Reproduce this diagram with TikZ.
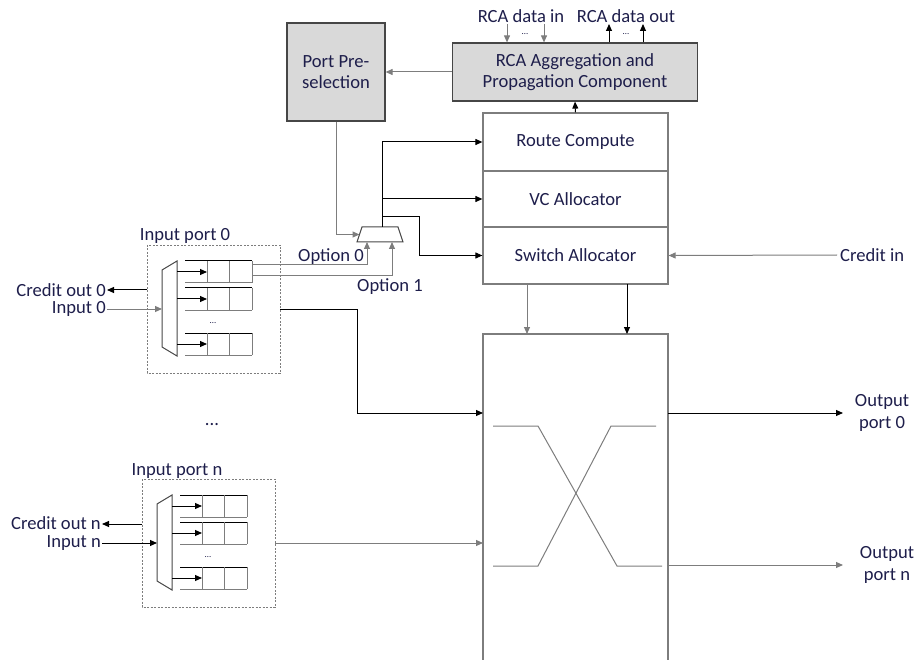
\documentclass[tikz,border=0pt]{standalone}
\usepackage{fontspec}
\setmainfont{Carlito}
\usetikzlibrary{arrows.meta}
\definecolor{txt}{RGB}{30,30,75}
\definecolor{gline}{RGB}{125,125,125}
\definecolor{dline}{RGB}{70,70,70}
\definecolor{boxfill}{RGB}{217,217,217}
\tikzset{
  ln/.style={line width=1pt,black},
  gl/.style={line width=1pt,gline},
  arr/.style={-{Triangle[length=7pt,width=6pt]}},
  box/.style={draw=gline,line width=1.2pt,inner sep=0pt,align=center},
  gbox/.style={draw=dline,line width=1.2pt,inner sep=0pt,align=center,fill=boxfill,
    font=\fontsize{18.6}{21.5}\selectfont},
  tiny/.style={font=\fontsize{9}{10}\selectfont},
  inport/.pic={
    \draw[gl,line width=0.9pt,dash pattern=on 2pt off 1.5pt] (0,0) rectangle (133,128);
    \draw[dline,line width=1pt] (15,25) -- (15,102) -- (30,111) -- (30,16) -- cycle;
    \foreach \t/\m in {16/27,43/54,88/99} {
      \draw[ln,line width=1pt] (38,\t) -- (105,\t);
      \draw[gl,line width=1pt] (38,\t+22) -- (105,\t+22);
      \draw[gl,line width=1pt] (60,\t) -- (60,\t+22) (82,\t) -- (82,\t+22) (105,\t) -- (105,\t+22);
      \draw[ln,arr] (30,\m) -- (60,\m);
    }
    \node[tiny] at (66,78) {\dots};
    \coordinate (-west) at (0,45);
    \coordinate (-in) at (15,64);
    \coordinate (-east) at (133,64);
    \coordinate (-q1) at (105,20);
    \coordinate (-q1b) at (105,31);
  }
}
\begin{document}
\begin{tikzpicture}[x=1pt,y=-1pt,
  every node/.style={text=txt,font=\fontsize{18.6}{22}\selectfont}]
\useasboundingbox (0,0) rectangle (918,660);

% top boxes
\node[gbox,minimum width=98pt,minimum height=98pt] (pps) at (336,72) {Port Pre-\\selection};
\node[gbox,minimum width=245pt,minimum height=58pt] (rca) at (575,72) {RCA Aggregation and\\Propagation Component};
\node[box,minimum width=185pt,minimum height=58pt] (rc) at (575.5,142) {Route Compute};
\node[box,minimum width=185pt,minimum height=56pt] (vc) at (575.5,199) {VC Allocator};
\node[box,minimum width=185pt,minimum height=57pt] (sa) at (575.5,255.5) {Switch Allocator};

% RCA data
\node (dinl) at (521,16) {RCA data in};
\node (doutl) at (626,16) {RCA data out};
\coordinate (di1) at (507,24); \coordinate (di2) at (544,24);
\coordinate (do1) at (609,24); \coordinate (do2) at (643,24);
\draw[gl,arr] (di1) -- (di1 |- rca.north);
\draw[gl,arr] (di2) -- (di2 |- rca.north);
\draw[ln,arr] (do1 |- rca.north) -- (do1);
\draw[ln,arr] (do2 |- rca.north) -- (do2);
\node[tiny] (dd1) at (525,34) {\dots};
\node[tiny] (dd2) at (626,34) {\dots};

\draw[gl,arr] (rca.west) -- (pps.east);
\draw[ln,arr] (rc.north) -- (rca.south);

% mux
\coordinate (muxin) at (359.5,234.5);
\coordinate (muxout) at (382,227);
\coordinate (muxo0) at (367,242);
\coordinate (muxo1) at (392,242);
\draw[dline,line width=1pt] (362,227) -- (398,227) -- (403,242) -- (357,242) -- cycle;
\draw[gl,arr] (pps.south) |- (muxin);
\draw[ln,arr] (muxout) |- (rc.west);
\coordinate (b1) at (382,199);
\coordinate (b2) at (382,217);
\coordinate (k2) at (419,217);
\draw[ln,arr] (b1) -- (vc.west);
\draw[ln,arr] (b2) -- (k2) |- (sa.west);

% input ports
\pic (p0) at (147,245) {inport};
\pic (pn) at (142,479) {inport};
\node (lp0) at (185,236) {Input port 0};
\node (lpn) at (177,471) {Input port n};
\node[anchor=east,inner sep=1pt] (co0) at (107,290) {Credit out 0};
\node[anchor=east,inner sep=1pt] (in0) at (107,309) {Input 0};
\node[anchor=east,inner sep=1pt] (con) at (102,523) {Credit out n};
\node[anchor=east,inner sep=1pt] (inn) at (102,543) {Input n};
\draw[ln,arr] (p0-west) -- (p0-west -| co0.east);
\draw[gl,arr] (in0.east |- p0-in) -- (p0-in);
\draw[ln,arr] (pn-west) -- (pn-west -| con.east);
\draw[ln,arr] (inn.east |- pn-in) -- (pn-in);
\node (vdots) at (212,425) {...};

% options
\draw[gl,arr] (p0-q1) -| (muxo0);
\draw[gl,arr] (p0-q1b) -| (muxo1);
\node (op0) at (331,257) {Option 0};
\node (op1) at (390,287) {Option 1};

% crossbar
\coordinate (xtl) at (483,334); \coordinate (xtr) at (668,334);
\coordinate (xbl) at (483,660); \coordinate (xbr) at (668,660);
\draw[gl,line width=1.2pt] (xbl) -- (xtl) -- (xtr) -- (xbr);
\coordinate (sa1) at (527,284); \coordinate (xt1) at (527,334);
\coordinate (sa2) at (627,284); \coordinate (xt2) at (627,334);
\draw[gl,arr] (sa1) -- (xt1);
\draw[ln,arr] (sa2) -- (xt2);
\coordinate (k3) at (357,309);
\coordinate (xin0) at (483,413);
\coordinate (xinn) at (483,543);
\draw[ln,arr] (p0-east) -- (k3) |- (xin0);
\draw[gl,arr] (pn-east) -- (xinn);
\draw[gl,line width=1pt] (493,426) -- (538,426) -- (617,566) -- (662,566);
\draw[gl,line width=1pt] (493,566) -- (538,566) -- (611,426) -- (656,426);

% outputs
\coordinate (xo0) at (668,413); \coordinate (xon) at (668,565);
\node[align=center] (out0) at (882,413) {Output\\port 0};
\node[align=center] (outn) at (887,565) {Output\\port n};
\coordinate (oe0) at (843,413); \coordinate (oen) at (843,565);
\draw[ln,arr] (xo0) -- (oe0);
\draw[gl,arr] (xon) -- (oen);
\node[anchor=west,inner sep=3pt] (cin) at (837,255) {Credit in};
\draw[gl,arr] (cin.west) -- (sa.east);
\end{tikzpicture}
\end{document}
